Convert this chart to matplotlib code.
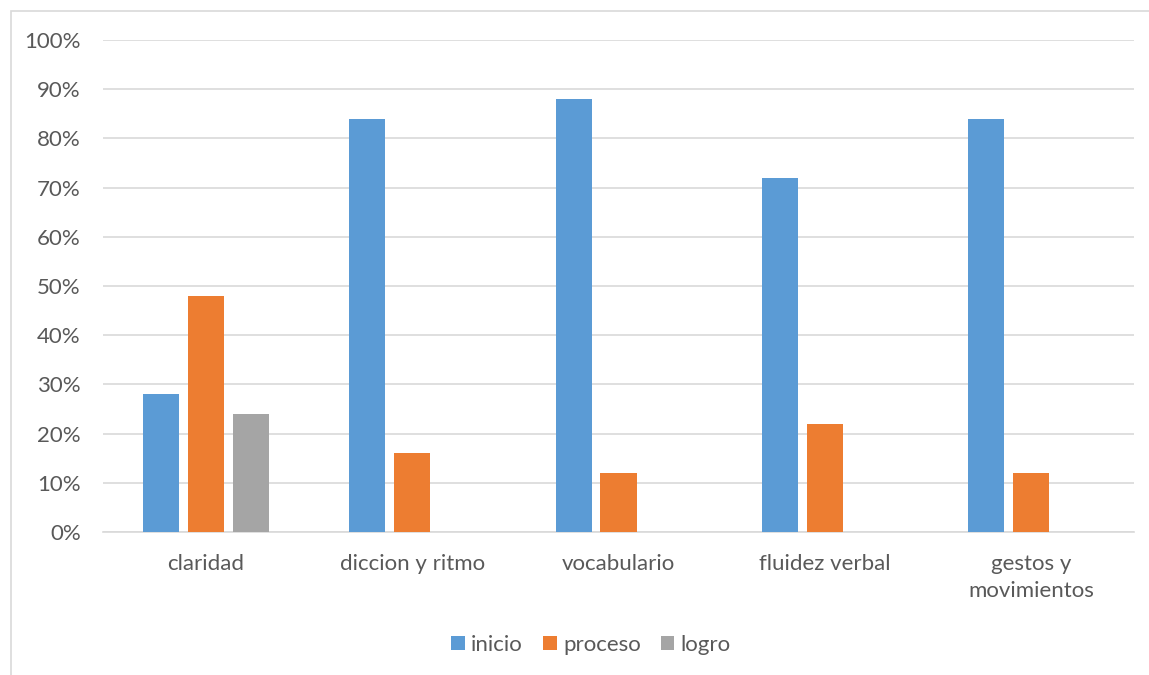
import matplotlib
matplotlib.use('Agg')
import matplotlib.pyplot as plt
from matplotlib.patches import Rectangle
import numpy as np

plt.rcParams['font.family'] = ['Lato', 'DejaVu Sans']

# data
categories = ['claridad', 'diccion y ritmo', 'vocabulario', 'fluidez verbal', 'gestos y\nmovimientos']
series_names = ['inicio', 'proceso', 'logro']
inicio = [0.28, 0.84, 0.88, 0.72, 0.84]
proceso = [0.48, 0.16, 0.12, 0.22, 0.12]
logro = [0.24, 0.0, 0.0, 0.0, 0.0]
colors = ['#5B9BD5', '#ED7D31', '#A5A5A5']

fig = plt.figure(figsize=(11.49, 6.75), dpi=100)
ax = fig.add_axes([103 / 1149, 1 - 532 / 675, (1134 - 103) / 1149, (532 - 40) / 675])

# outer chart border (only left/top visible in crop)
fig.patches.append(Rectangle((11 / 1149, -0.1), 1.2, 1 - 11 / 675 + 0.1,
                             transform=fig.transFigure, fill=False,
                             edgecolor='#D9D9D9', linewidth=1.2))

x = np.arange(len(categories))
width = 0.175
offset = 0.218
for i, (vals, name, c) in enumerate(zip([inicio, proceso, logro], series_names, colors)):
    ax.bar(x + (i - 1) * offset, vals, width=width, color=c, label=name, zorder=3)

ax.set_xlim(-0.5, len(categories) - 0.5)
ax.set_ylim(0, 1.0)
ax.set_yticks(np.arange(0, 1.01, 0.1))
ax.set_yticklabels([f'{int(round(v * 100))}%' for v in np.arange(0, 1.01, 0.1)])
ax.set_xticks(x)
ax.set_xticklabels(categories, linespacing=1.4)

ax.yaxis.grid(True, color='#D9D9D9', linewidth=1.2, zorder=0)
ax.set_axisbelow(True)
for s in ['top', 'right', 'left']:
    ax.spines[s].set_visible(False)
ax.spines['bottom'].set_color('#D9D9D9')
ax.spines['bottom'].set_linewidth(1.2)
ax.tick_params(axis='both', length=0, labelsize=16, colors='#595959')
ax.tick_params(axis='x', pad=16)
ax.tick_params(axis='y', pad=16)

leg = fig.legend(loc='center', bbox_to_anchor=(591 / 1149, 1 - 645 / 675), ncol=3,
                 frameon=False, fontsize=16, handlelength=0.62, handleheight=0.62,
                 handletextpad=0.28, columnspacing=0.9, labelcolor='#595959')

fig.savefig('out.png', dpi=100, facecolor='white')
plt.close(fig)
